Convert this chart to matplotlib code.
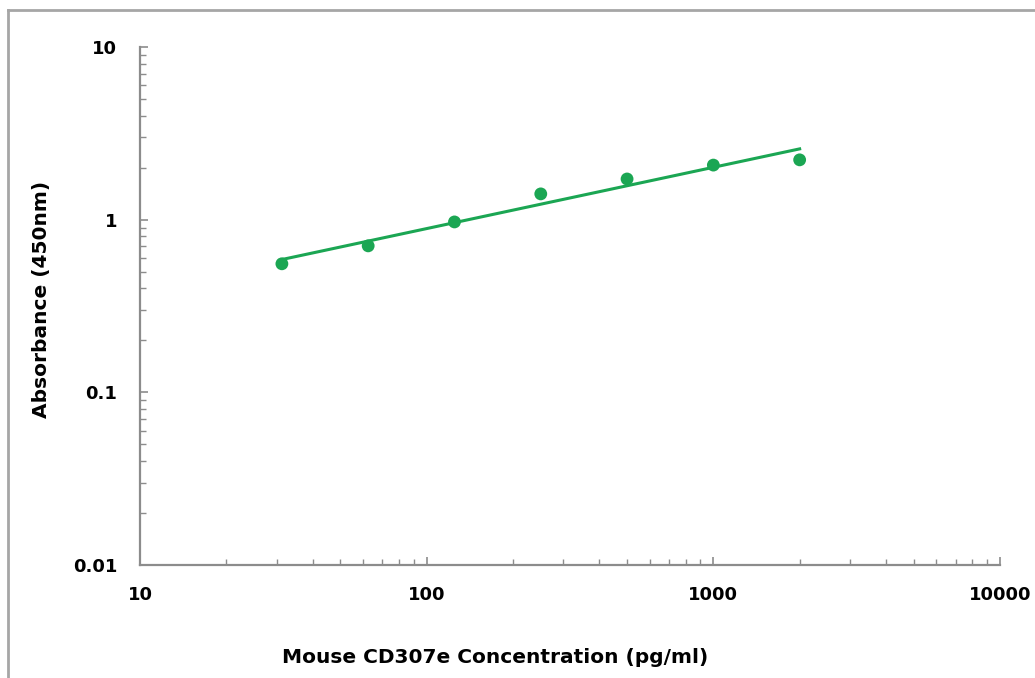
import matplotlib
matplotlib.use("Agg")
import matplotlib.pyplot as plt
import numpy as np
from matplotlib.ticker import LogLocator, FixedLocator, FixedFormatter, NullFormatter
from matplotlib.lines import Line2D

plt.rcParams['font.family'] = ['DejaVu Sans']
plt.rcParams['font.weight'] = 'bold'

# Standard curve data
concentration = [31.25, 62.5, 125, 250, 500, 1000, 2000]
absorbance = [0.555, 0.705, 0.97, 1.41, 1.72, 2.07, 2.22]

x_ticks = [10, 100, 1000, 10000]
x_tick_labels = ['10', '100', '1000', '10000']
y_ticks = [0.01, 0.1, 1, 10]
y_tick_labels = ['0.01', '0.1', '1', '10']

green = '#1ba653'
axis_grey = '#8c8c8c'

fig = plt.figure(figsize=(10.35, 6.78), dpi=100)
ax = fig.add_axes([0.1353, 0.1667, 0.8309, 0.764])

# power trendline fitted in log-log space
slope, intercept = np.polyfit(np.log10(concentration), np.log10(absorbance), 1)
fit_x = np.array([concentration[0], concentration[-1]])
fit_y = 10 ** (intercept + slope * np.log10(fit_x))
ax.plot(fit_x, fit_y, color=green, linewidth=2.2, zorder=2)

ax.scatter(concentration, absorbance, s=85, color=green, zorder=3, edgecolors='none')

ax.set_xscale('log')
ax.set_yscale('log')
ax.set_xlim(10, 10000)
ax.set_ylim(0.01, 10)

ax.xaxis.set_major_locator(FixedLocator(x_ticks))
ax.xaxis.set_major_formatter(FixedFormatter(x_tick_labels))
ax.yaxis.set_major_locator(FixedLocator(y_ticks))
ax.yaxis.set_major_formatter(FixedFormatter(y_tick_labels))
ax.xaxis.set_minor_locator(LogLocator(base=10, subs=np.arange(2, 10)))
ax.yaxis.set_minor_locator(LogLocator(base=10, subs=np.arange(2, 10)))
ax.xaxis.set_minor_formatter(NullFormatter())
ax.yaxis.set_minor_formatter(NullFormatter())

for side in ['top', 'right']:
    ax.spines[side].set_visible(False)
for side in ['left', 'bottom']:
    ax.spines[side].set_color(axis_grey)
    ax.spines[side].set_linewidth(1.6)

ax.tick_params(which='major', direction='in', length=6, width=1.2, color=axis_grey,
               labelsize=13)
ax.tick_params(which='minor', direction='in', length=4, width=1.0, color=axis_grey)
ax.tick_params(axis='x', which='major', pad=15)
ax.tick_params(axis='y', which='major', pad=16.5)
for lbl in ax.get_xticklabels() + ax.get_yticklabels():
    lbl.set_fontweight('bold')

ax.set_xlabel('Mouse CD307e Concentration (pg/ml)', fontsize=14.5, fontweight='bold')
ax.set_ylabel('Absorbance (450nm)', fontsize=14.5, fontweight='bold')
ax.xaxis.set_label_coords(0.413, -0.16)
ax.yaxis.set_label_coords(-0.104, 0.512)

# outer frame (left and top edges only visible in the picture)
fig.add_artist(Line2D([0.0082, 0.0082], [0.0, 0.985], transform=fig.transFigure,
                      color='#a6a6a6', linewidth=2))
fig.add_artist(Line2D([0.0082, 1.0], [0.985, 0.985], transform=fig.transFigure,
                      color='#a6a6a6', linewidth=2))

fig.savefig('out.png', dpi=100, facecolor='white')
